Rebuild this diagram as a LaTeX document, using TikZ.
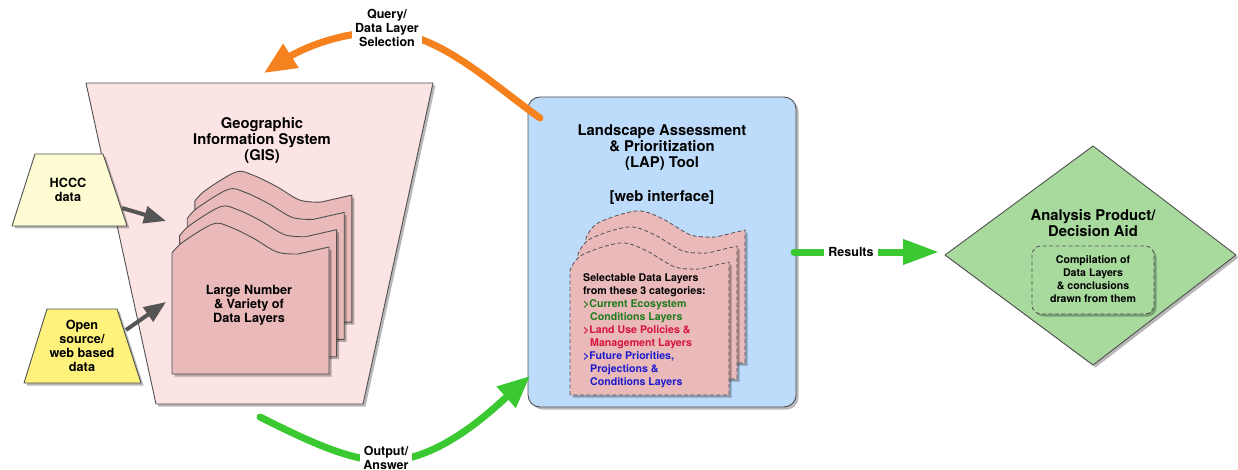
\documentclass[tikz,border=0pt]{standalone}
\usepackage{fontspec}
\setmainfont{TeX Gyre Heros}
\usetikzlibrary{arrows.meta,shadows}
\definecolor{gisfill}{HTML}{FDE4E4}
\definecolor{sheetfill}{HTML}{EAB9B9}
\definecolor{hcccfill}{HTML}{FEFCD2}
\definecolor{openfill}{HTML}{FEF27D}
\definecolor{lapfill}{HTML}{BDDCFB}
\definecolor{diafill}{HTML}{A8DA9E}
\definecolor{edgegray}{HTML}{505050}
\definecolor{arrgray}{HTML}{555555}
\definecolor{orangeA}{HTML}{F6821F}
\definecolor{greenA}{HTML}{3AC930}
\definecolor{txtgreen}{HTML}{1E7B1E}
\definecolor{txtred}{HTML}{D6143C}
\definecolor{txtblue}{HTML}{1B1BCC}
\begin{document}
\begin{tikzpicture}[x=1pt,y=-1pt,
  edge/.style={draw=edgegray, line width=0.9pt, line join=round},
  shd/.style={drop shadow={shadow xshift=2.5pt,shadow yshift=-2.5pt,opacity=0.28,fill=black}},
  sheetgis/.style={edge, fill=sheetfill, shd},
  sheetlap/.style={draw=edgegray, line width=0.8pt, dash pattern=on 4pt off 2.5pt, fill=sheetfill, shd},
  txt/.style={align=center, inner sep=0pt, font=\bfseries\fontsize{12.7}{14}\selectfont},
  titletxt/.style={align=center, inner sep=0pt, font=\bfseries\fontsize{14.8}{16}\selectfont},
  smalltxt/.style={align=center, inner sep=0pt, font=\bfseries\fontsize{10.6}{13}\selectfont},
  arrlabel/.style={align=center, inner sep=3pt, fill=white, font=\bfseries\fontsize{12.5}{13.7}\selectfont},
  grayarrow/.style={draw=arrgray, line width=4pt, -{Triangle[length=22pt,width=17pt]}},
  orangearrow/.style={draw=orangeA, line width=7pt, line cap=round, -{Triangle[length=32pt,width=27pt]}},
  greenarrow/.style={draw=greenA, line width=7pt, line cap=round, -{Triangle[length=32pt,width=27pt]}},
  resultarrow/.style={draw=greenA, line width=7pt, line cap=round, -{Triangle[length=36pt,width=24pt]}}
]
\useasboundingbox (0,0) rectangle (1238,470);

% ---------------- GIS trapezoid ----------------
\draw[edge, fill=gisfill, shd] (86,83) -- (433,83) -- (363,404) -- (156,404) -- cycle;
\node[titletxt] (gistitle) at (262,140) {Geographic\\Information System\\(GIS)};

% GIS sheets (back to front)
\foreach \i in {3,2,1,0} {
  \draw[sheetgis, shift={(172+7.6*\i,374-17.3*\i)}]
    (0,0) -- plot[smooth, tension=0.55] coordinates {(0,-121) (11,-132) (41,-150) (58,-147) (81,-136) (105,-122) (126,-120)}
    -- (157,-127) -- (157,0) -- cycle;
}
\node[txt] (gisstack) at (249,305) {Large Number\\\& Variety of\\Data Layers};

% ---------------- source trapezoids ----------------
\draw[edge, fill=hcccfill, shd] (35,154) -- (103,154) -- (127,226) -- (12,226) -- cycle;
\node[txt] (hccc) at (68,190) {HCCC\\data};
\draw[edge, fill=openfill, shd] (47,309) -- (117,309) -- (141,383) -- (24,383) -- cycle;
\node[txt] (open) at (82,346) {Open\\source/\\web based\\data};

\coordinate (hcccR) at (122,208);
\coordinate (stackA) at (166,221);
\coordinate (openR) at (126,330);
\coordinate (stackB) at (166,302);
\draw[grayarrow] (hcccR) -- (stackA);
\draw[grayarrow] (openR) -- (stackB);

% ---------------- LAP box ----------------
\draw[edge, fill=lapfill, rounded corners=12pt, shd] (528,97) rectangle (796,407);
\node[titletxt] (laptitle) at (662,148) {Landscape Assessment\\\& Prioritization\\(LAP) Tool};
\node[titletxt] (web) at (662,197) {[web interface]};

\foreach \i in {2,1,0} {
  \draw[sheetlap, shift={(570+8*\i,395-16*\i)}]
    (0,0) -- plot[smooth, tension=0.55] coordinates {(0,-125) (12,-140) (50,-152) (75,-145) (105,-128) (130,-126)}
    -- (159,-133) -- (159,0) -- cycle;
}
\node[anchor=north west, align=left, inner sep=0pt, font=\bfseries\fontsize{10.6}{13}\selectfont] (laplist) at (583,273)
 {Selectable Data Layers\\
  from these 3 categories:\\
  \textcolor{txtgreen}{>Current Ecosystem}\\
  \textcolor{txtgreen}{\hspace*{7pt}Conditions Layers}\\
  \textcolor{txtred}{>Land Use Policies \&}\\
  \textcolor{txtred}{\hspace*{7pt}Management Layers}\\
  \textcolor{txtblue}{>Future Priorities,}\\
  \textcolor{txtblue}{\hspace*{7pt}Projections \&}\\
  \textcolor{txtblue}{\hspace*{7pt}Conditions Layers}};

% ---------------- Diamond ----------------
\draw[edge, fill=diafill, shd] (945,255) -- (1093,146) -- (1236,255) -- (1093,365) -- cycle;
\node[titletxt] (diatitle) at (1093,223) {Analysis Product/\\Decision Aid};
\draw[draw=edgegray, line width=0.8pt, dash pattern=on 4pt off 2.5pt, fill=diafill, rounded corners=9pt, shd] (1032,246) rectangle (1154,314);
\node[smalltxt] (compil) at (1093,279) {Compilation of\\Data Layers\\\& conclusions\\drawn from them};

% ---------------- Connectors ----------------
\coordinate (qStart) at (540,118);
\coordinate (qEnd) at (264,73);
\draw[orangearrow] (qStart) .. controls (492,84) and (440,34) .. (387,32)
                             .. controls (340,31) and (300,50) .. (qEnd);
\node[arrlabel] (query) at (387,28) {Query/\\Data Layer\\Selection};

\coordinate (oStart) at (260,417);
\coordinate (oEnd) at (530,376);
\draw[greenarrow] (oStart) .. controls (310,442) and (350,461) .. (387,461)
                           .. controls (440,460) and (492,410) .. (oEnd);
\node[arrlabel] (output) at (386,458) {Output/\\Answer};

\coordinate (rStart) at (794,252);
\coordinate (rEnd) at (939,252);
\draw[resultarrow] (rStart) -- (rEnd);
\node[arrlabel, inner sep=4pt] (results) at (851,252) {Results};

\end{tikzpicture}
\end{document}
